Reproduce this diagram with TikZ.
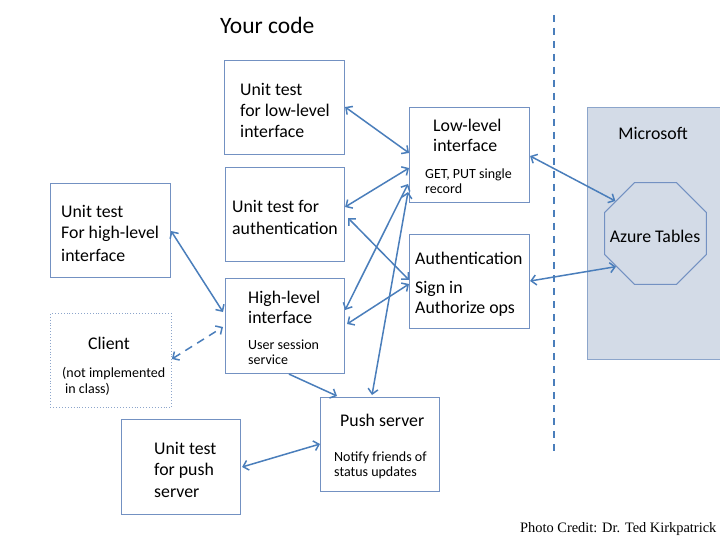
\documentclass[tikz,border=0pt]{standalone}
\usepackage{fontspec}
\setmainfont{Carlito}
\newfontfamily\creditfont{Liberation Serif}
\usetikzlibrary{arrows.meta,calc,shapes.geometric}
\definecolor{arrowc}{RGB}{74,126,187}
\definecolor{boxc}{RGB}{115,145,194}
\definecolor{msfill}{RGB}{211,219,231}
\definecolor{msdraw}{RGB}{140,165,203}
\definecolor{dotc}{RGB}{140,165,203}
\tikzset{
  box/.style={draw=boxc,line width=1.1pt,fill=white,inner sep=0pt,anchor=north west},
  big/.style={inner sep=0pt,anchor=base west,font=\fontsize{17.8}{21}\selectfont},
  small/.style={inner sep=0pt,anchor=base west,font=\fontsize{14}{15.5}\selectfont},
  conn/.style={draw=arrowc,line width=1.5pt,{Straight Barb[length=5pt,width=10pt]}-{Straight Barb[length=5pt,width=10pt]}},
  conn1/.style={draw=arrowc,line width=1.5pt,-{Straight Barb[length=5pt,width=10pt]}}
}
\begin{document}
\begin{tikzpicture}[x=1pt,y=-1pt]
\useasboundingbox (0,0) rectangle (720,540);
\fill[white] (0,0) rectangle (720,540);
% Microsoft region
\node[draw=msdraw,fill=msfill,line width=1.1pt,inner sep=0pt,anchor=north west,minimum width=133pt,minimum height=252pt] (ms) at (587,107) {};
\node[big,anchor=base] (mst) at (653,140) {Microsoft};
\node[draw=boxc,fill=msfill,line width=1.1pt,regular polygon,regular polygon sides=8,minimum size=110pt,inner sep=0pt] (az) at (655.5,233.5) {};
\node[big,anchor=base] (azt) at (655,242) {Azure Tables};
% dashed divider
\coordinate (d1) at (554,15);
\coordinate (d2) at (554,453);
\draw[arrowc,line width=1.8pt,dash pattern=on 7pt off 6pt] (d1) -- (d2);
% title
\node[inner sep=0pt,anchor=base west,font=\fontsize{23.5}{28}\selectfont] (yc) at (220,34) {Your code};
% boxes
\node[box,minimum width=120pt,minimum height=94pt] (lt) at (224,60) {};
\node[box,minimum width=120pt,minimum height=95pt] (ll) at (409,107) {};
\node[box,minimum width=119pt,minimum height=94pt] (at) at (225,167) {};
\node[box,minimum width=120pt,minimum height=94pt] (hlt) at (50,183) {};
\node[box,minimum width=119pt,minimum height=95pt] (hl) at (225,278) {};
\node[box,draw=dotc,line width=0.9pt,dotted,minimum width=121pt,minimum height=94pt] (cl) at (50,313) {};
\node[box,minimum width=120pt,minimum height=94pt] (au) at (409,234) {};
\node[box,minimum width=119pt,minimum height=94pt] (ps) at (320,397) {};
\node[box,minimum width=119pt,minimum height=95pt] (pt) at (121,419) {};
% texts
\node[big] (lt1) at (240,96) {Unit test};
\node[big] (lt2) at (240,117) {for low-level};
\node[big] (lt3) at (240,138) {interface};
\node[big] (ll1) at (433,132) {Low-level};
\node[big] (ll2) at (433,152) {interface};
\node[small] (ll3) at (425,179) {GET, PUT single};
\node[small] (ll4) at (425,194) {record};
\node[big] (at1) at (232,213) {Unit test for};
\node[big] (at2) at (232,234) {authentication};
\node[big] (hlt1) at (61,218) {Unit test};
\node[big] (hlt2) at (61,239) {For high-level};
\node[big] (hlt3) at (61,261) {interface};
\node[big] (hl1) at (248,303) {High-level};
\node[big] (hl2) at (248,323) {interface};
\node[small] (hl3) at (248,349) {User session};
\node[small] (hl4) at (248,364) {service};
\node[big,anchor=base] (cl1) at (109,349) {Client};
\node[small] (cl2) at (62,377) {(not implemented};
\node[small] (cl3) at (65,393) {in class)};
\node[big] (au1) at (415,264) {Authentication};
\node[big] (au2) at (415,293) {Sign in};
\node[big] (au3) at (415,313) {Authorize ops};
\node[big] (ps1) at (340,426) {Push server};
\node[small] (ps2) at (334,461) {Notify friends of};
\node[small] (ps3) at (334,476) {status updates};
\node[big] (pt1) at (154,454) {Unit test};
\node[big] (pt2) at (154,475) {for push};
\node[big] (pt3) at (154,497) {server};
\node[inner sep=0pt,anchor=base west,font=\creditfont\fontsize{14.4}{16}\selectfont] (cr) at (520,532) {Photo Credit: Dr. Ted Kirkpatrick};
% connectors
\draw[conn] ($(lt.north east)+(0,47)$) -- ($(ll.north west)+(0,46)$);
\draw[conn] ($(at.north east)+(0,40)$) -- ($(ll.north west)+(0,61)$);
\draw[conn] ($(at.north east)+(3,51)$) -- ($(au.north west)+(0,46)$);
\draw[conn] ($(hl.north east)+(0,32)$) -- ($(ll.north west)+(-1,77)$);
\draw[conn] ($(hl.north east)+(2,46)$) -- ($(au.north west)+(0,50)$);
\draw[conn] ($(ps.north west)+(52,-2)$) -- ($(ll.north west)+(-1,85)$);
\draw[conn1] ($(hl.south west)+(64,0)$) -- ($(ps.north west)+(17,-1)$);
\draw[conn] ($(hlt.north east)+(0,48)$) -- ($(hl.north west)+(-2,34)$);
\draw[conn,dash pattern=on 8pt off 6pt] ($(cl.north east)+(0,46)$) -- ($(hl.north west)+(-2,49)$);
\draw[conn] ($(pt.north east)+(1,48)$) -- ($(ps.north west)+(0,47)$);
\draw[conn] ($(ll.north east)+(0,49)$) -- (az.141);
\draw[conn] ($(au.north east)+(0,47)$) -- (az.220);
\end{tikzpicture}
\end{document}
